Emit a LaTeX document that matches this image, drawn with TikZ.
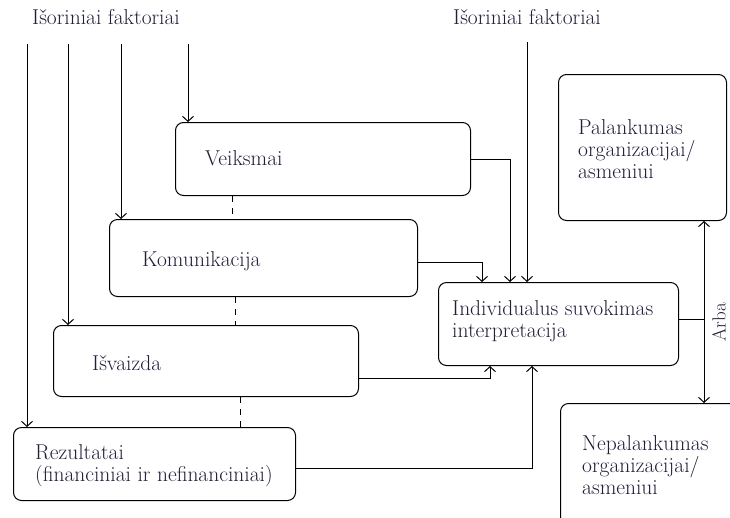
\documentclass[tikz,border=0pt]{standalone}
\usetikzlibrary{arrows.meta}
\definecolor{txt}{RGB}{34,30,58}
\begin{document}
\begin{tikzpicture}[x=1pt,y=-1pt,
  box/.style={draw, line width=1pt, rounded corners=8pt, anchor=north west, inner sep=0pt},
  lbl/.style={text=txt, font=\fontsize{21.5}{22}\selectfont, align=left, anchor=west, inner sep=0pt},
  arr/.style={line width=1pt, -{Straight Barb[length=5pt,width=11pt]}},
  darr/.style={line width=1pt, {Straight Barb[length=5pt,width=11pt]}-{Straight Barb[length=5pt,width=11pt]}},
  dsh/.style={line width=1pt, dash pattern=on 6pt off 6pt}]
\clip (0,0) rectangle (730,517);
\useasboundingbox (0,0) rectangle (730,517);
\fill[white] (0,0) rectangle (730,517);

% boxes
\node[box, minimum width=295, minimum height=73] (v) at (175,122) {};
\node[box, minimum width=308, minimum height=77] (k) at (109,219) {};
\node[box, minimum width=305, minimum height=71] (i) at (53,325) {};
\node[box, minimum width=282, minimum height=73] (r) at (13,427) {};
\node[box, minimum width=240, minimum height=83] (ind) at (438,282) {};
\node[box, minimum width=168, minimum height=146] (p) at (558,74) {};
\node[box, minimum width=200, minimum height=160] (n) at (560,403) {};

% labels
\node[lbl, anchor=base west] (t0) at (32,24) {Išoriniai faktoriai};
\node[lbl, anchor=base west] (t1) at (453,24) {Išoriniai faktoriai};
\node[lbl] (vt) at (205,158) {Veiksmai};
\node[lbl] (kt) at (142,261) {Komunikacija};
\node[lbl] (it) at (92,363) {Išvaizda};
\node[lbl] (rt) at (35,466) {Rezultatai\\(financiniai ir nefinanciniai)};
\node[lbl] (indt) at (452,321) {Individualus suvokimas\\interpretacija};
\node[lbl] (pt) at (578,149) {Palankumas\\organizacijai/\\asmeniui};
\node[lbl] (nt) at (582,465) {Nepalankumas\\organizacijai/\\asmeniui};
\node[lbl, rotate=90, anchor=center, font=\fontsize{19}{20}\selectfont] (arba) at (719,322) {Arba};

% source coordinates
\coordinate (s1) at (27,44);
\coordinate (s2) at (68,44);
\coordinate (s3) at (121,44);
\coordinate (s4) at (188,44);
\coordinate (s5) at (527,42);

\draw[arr] (s1) -- (s1 |- r.north);
\draw[arr] (s2) -- (s2 |- i.north);
\draw[arr] (s3) -- (s3 |- k.north);
\draw[arr] (s4) -- (s4 |- v.north);
\draw[arr] (s5) -- (s5 |- ind.north);

% into Individualus
\draw[arr] (v.east) -| ([xshift=72pt]ind.north west);
\draw[arr] ([yshift=-4pt]k.east) -| ([xshift=44pt]ind.north west);
\draw[arr] ([yshift=-17.5pt]i.east) -| ([xshift=52pt]ind.south west);
\draw[arr] ([yshift=-4.5pt]r.east) -| ([xshift=94pt]ind.south west);

% dashed links
\draw[dsh] ([xshift=57pt]v.south west) -- ([xshift=57pt]v.south west |- k.north);
\draw[dsh] ([xshift=126pt]k.south west) -- ([xshift=126pt]k.south west |- i.north);
\draw[dsh] ([xshift=187pt]i.south west) -- ([xshift=187pt]i.south west |- r.north);

% Arba
\coordinate (ax) at (704,319);
\draw[line width=1pt] (ax -| ind.east) -- (ax);
\draw[darr] (ax |- p.south) -- (ax |- n.north);
\end{tikzpicture}
\end{document}
